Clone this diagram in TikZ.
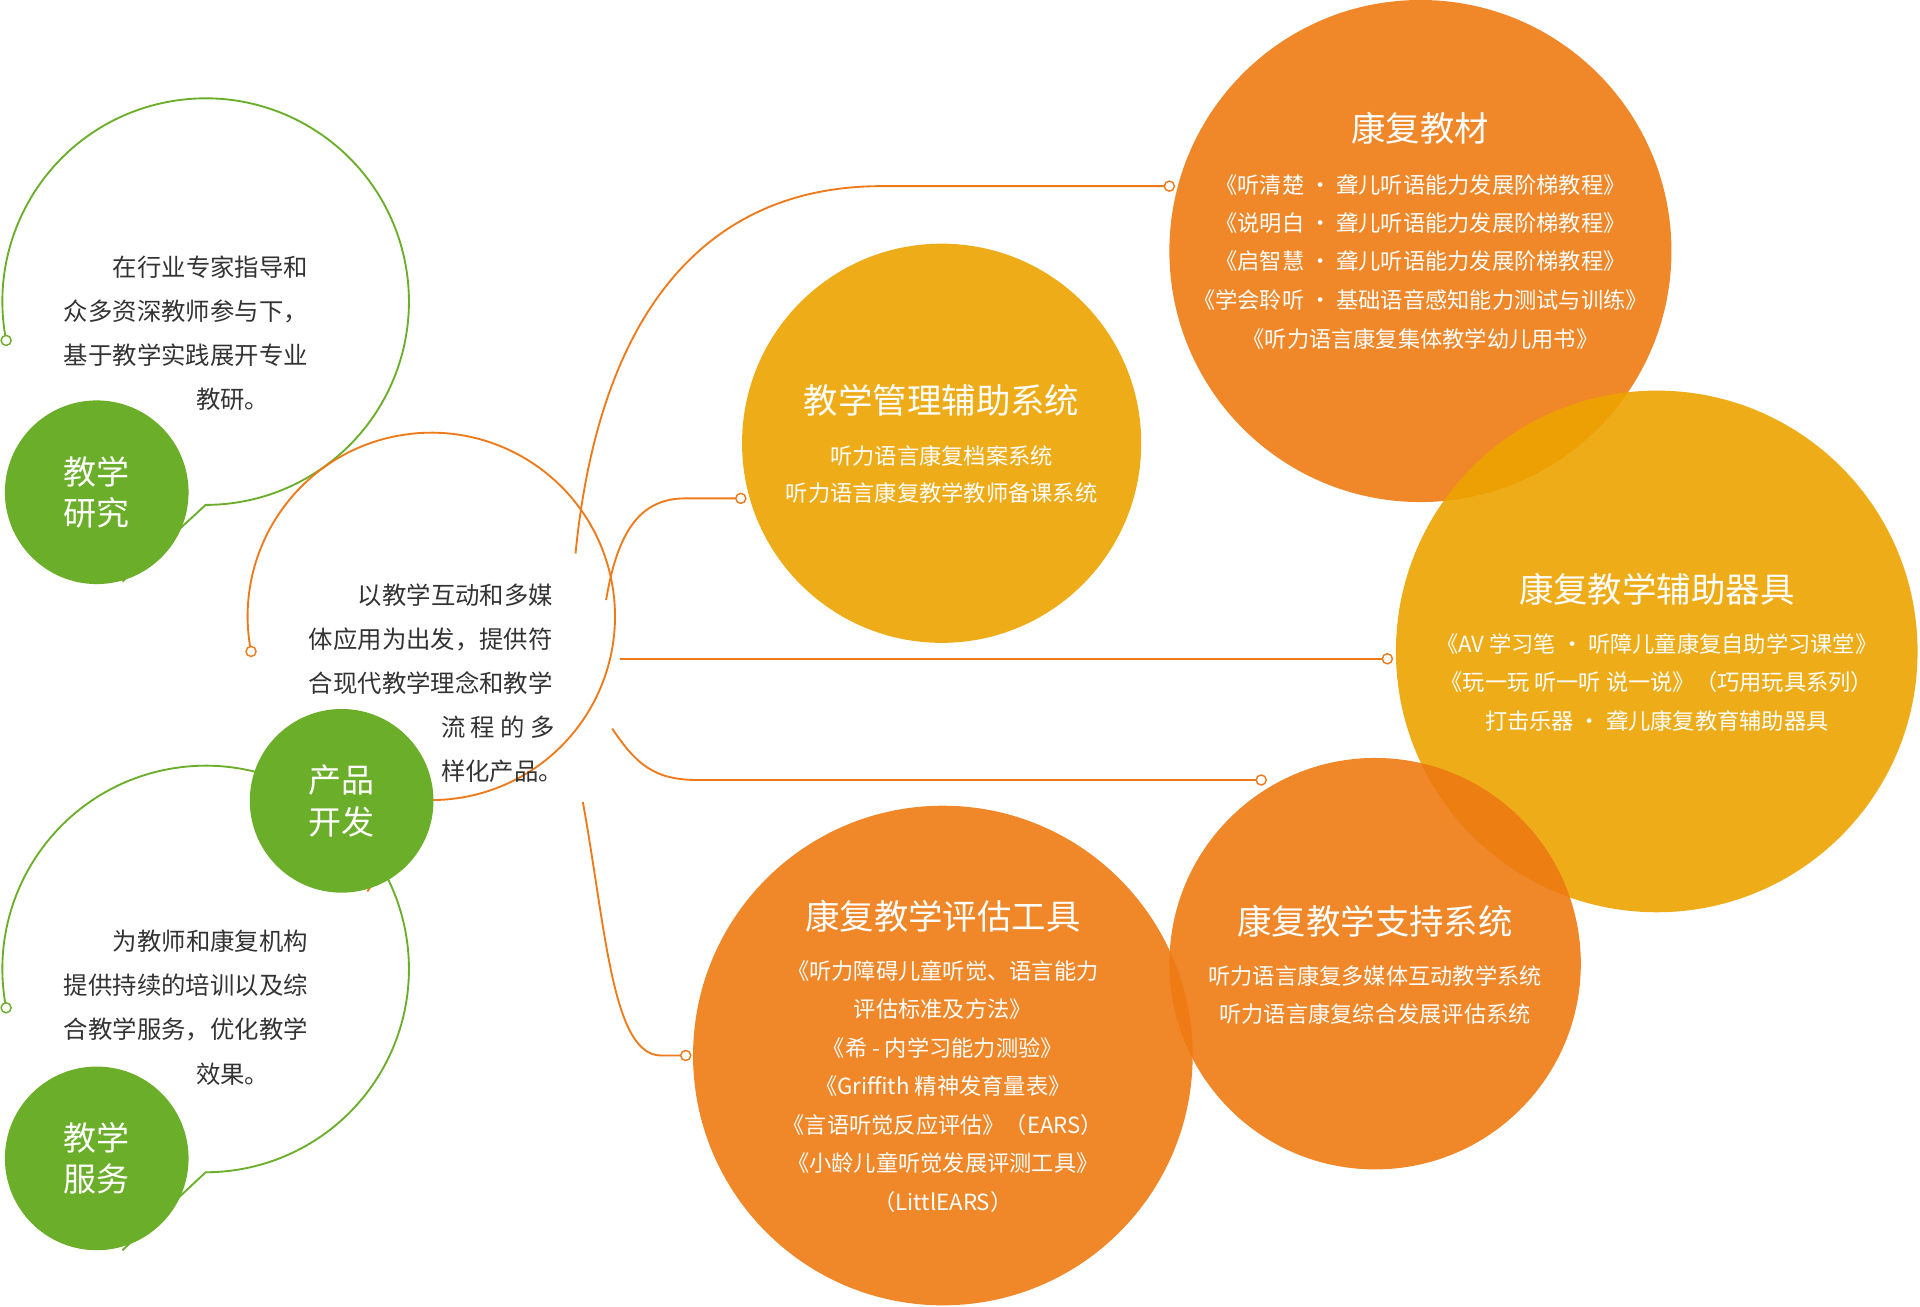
\documentclass[tikz,border=0pt]{standalone}
\usepackage{fontspec}
\setmainfont{Noto Sans CJK SC}
\definecolor{org}{HTML}{EE7A12}
\definecolor{yel}{HTML}{EDA300}
\definecolor{grn}{HTML}{6AAE2A}
\definecolor{ln}{HTML}{EE7A1A}
\definecolor{txt}{HTML}{333333}
\tikzset{
 bub/.style={fill=#1,fill opacity=0.9,draw=none},
 ttl/.style={text=white,font=\fontsize{24}{28}\selectfont},
 bod/.style={text=white,font=\fontsize{15.5}{18}\selectfont},
 lt/.style={anchor=west,text=txt,font=\fontsize{17}{20}\selectfont,inner sep=0},
 gtx/.style={text=white,font=\fontsize{23}{29}\selectfont,align=left},
 conn/.style={draw=ln,line width=1.3pt},
 ring/.style={draw=grn,line width=1.3pt},
 dotc/.style={circle,draw=ln,fill=white,line width=1pt,inner sep=0,minimum size=7pt},
 gdot/.style={circle,draw=grn,fill=white,line width=1pt,inner sep=0,minimum size=7pt}
}
\begin{document}
\begin{tikzpicture}[x=0.03cm,y=-0.03cm]
\useasboundingbox (0,0) rectangle (1568,1067);
% rings
\draw[ring] (5,278) arc[start angle=191,end angle=-90,radius=4.98cm] -- (100,475);
\draw[conn] (205,532) arc[start angle=191,end angle=-90,radius=4.5cm] -- (300,728);
\draw[ring] (5,823) arc[start angle=191,end angle=-90,radius=4.98cm] -- (100,1021);
\node[gdot] (d1) at (5,278) {};
\node[dotc] (d2) at (205,532) {};
\node[gdot] (d3) at (5,823) {};
% connectors
\coordinate (s1) at (470,452);
\coordinate (s2) at (495,490);
\coordinate (s3) at (506,538);
\coordinate (s4) at (500,595);
\coordinate (s5) at (476,655);
\coordinate (e1) at (955,152);
\coordinate (e2) at (605,407);
\coordinate (e3) at (1133,538);
\coordinate (e4) at (1030,637);
\coordinate (e5) at (560,862);
\draw[conn] (s1) .. controls (490,250) and (580,152) .. (720,152) -- (e1);
\draw[conn] (s2) .. controls (505,430) and (525,407) .. (560,407) -- (e2);
\draw[conn] (s3) -- (e3);
\draw[conn] (s4) .. controls (520,625) and (535,637) .. (570,637) -- (e4);
\draw[conn] (s5) .. controls (495,760) and (500,862) .. (540,862) -- (e5);
% bubbles
\fill[bub=org] (1160,205) circle[radius=6.15cm];
\fill[bub=yel] (1353,532) circle[radius=6.39cm];
\fill[bub=yel] (769,362) circle[radius=4.89cm];
\fill[bub=org] (1123,787) circle[radius=5.04cm];
\fill[bub=org] (770,862) circle[radius=6.12cm];
\node[dotc] at (e1) {};
\node[dotc] at (e2) {};
\node[dotc] at (e3) {};
\node[dotc] at (e4) {};
\node[dotc] at (e5) {};
% green circles
\fill[grn] (79,402) circle[radius=2.25cm];
\fill[grn] (279,654) circle[radius=2.25cm];
\fill[grn] (79,946) circle[radius=2.25cm];
\node[gtx] (g1) at (79,402) {教学\\研究};
\node[gtx] (g2) at (279,654) {产品\\开发};
\node[gtx] (g3) at (79,946) {教学\\服务};
% left texts
\node[lt] at (92,218) {在行业专家指导和};
\node[lt] at (52,254) {众多资深教师参与下，};
\node[lt] at (52,290) {基于教学实践展开专业};
\node[lt] at (160,326) {教研。};
\node[lt] at (292,486) {以教学互动和多媒};
\node[lt] at (252,522) {体应用为出发，提供符};
\node[lt] at (252,558) {合现代教学理念和教学};
\node[lt] at (360,594) {流 程 的 多};
\node[lt] at (360,630) {样化产品。};
\node[lt] at (92,769) {为教师和康复机构};
\node[lt] at (52,805) {提供持续的培训以及综};
\node[lt] at (52,841) {合教学服务，优化教学};
\node[lt] at (160,877) {效果。};
% bubble texts
\node[ttl] at (1160,105) {康复教材};
\node[bod] at (1160,151) {《听清楚 • 聋儿听语能力发展阶梯教程》};
\node[bod] at (1160,182) {《说明白 • 聋儿听语能力发展阶梯教程》};
\node[bod] at (1160,213) {《启智慧 • 聋儿听语能力发展阶梯教程》};
\node[bod] at (1160,245) {《学会聆听 • 基础语音感知能力测试与训练》};
\node[bod] at (1160,277) {《听力语言康复集体教学幼儿用书》};
\node[ttl] at (1353,481) {康复教学辅助器具};
\node[bod] at (1353,526) {《AV 学习笔 • 听障儿童康复自助学习课堂》};
\node[bod] at (1353,557) {《玩一玩 听一听 说一说》（巧用玩具系列）};
\node[bod] at (1353,589) {打击乐器 • 聋儿康复教育辅助器具};
\node[ttl] at (769,327) {教学管理辅助系统};
\node[bod] at (769,372) {听力语言康复档案系统};
\node[bod] at (769,403) {听力语言康复教学教师备课系统};
\node[ttl] at (1123,752) {康复教学支持系统};
\node[bod] at (1123,797) {听力语言康复多媒体互动教学系统};
\node[bod] at (1123,828) {听力语言康复综合发展评估系统};
\node[ttl] at (770,748) {康复教学评估工具};
\node[bod] at (770,793) {《听力障碍儿童听觉、语言能力};
\node[bod] at (770,824) {评估标准及方法》};
\node[bod] at (770,856) {《希 - 内学习能力测验》};
\node[bod] at (770,887) {《Griffith 精神发育量表》};
\node[bod] at (770,919) {《言语听觉反应评估》（EARS）};
\node[bod] at (770,950) {《小龄儿童听觉发展评测工具》};
\node[bod] at (770,982) {（LittlEARS）};
\end{tikzpicture}
\end{document}
